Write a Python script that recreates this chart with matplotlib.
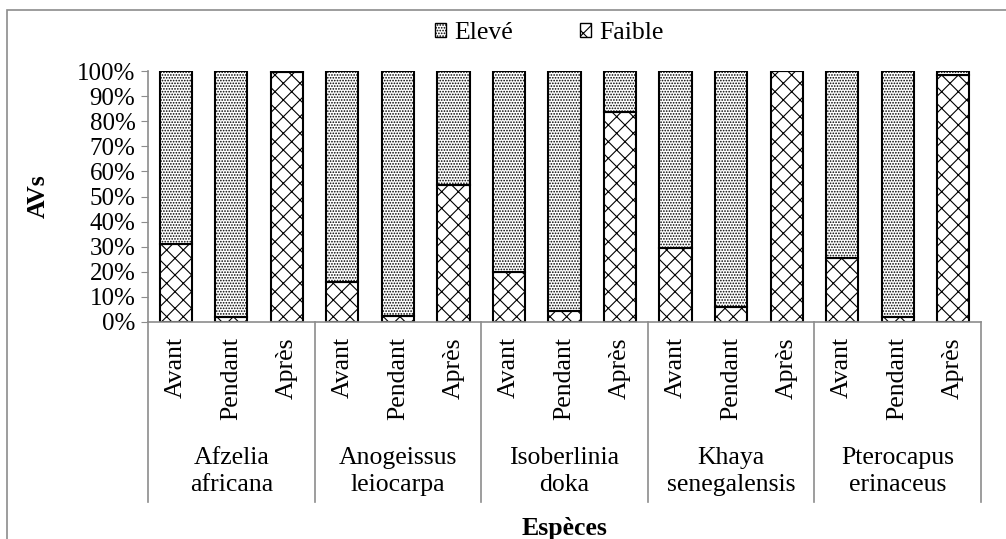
import numpy as np
import matplotlib
matplotlib.use('Agg')
import matplotlib.pyplot as plt
from matplotlib.patches import Patch, Rectangle
from matplotlib.lines import Line2D
import matplotlib.transforms as mtransforms

plt.rcParams['font.family'] = ['Liberation Serif', 'DejaVu Serif']
plt.rcParams['hatch.linewidth'] = 0.8

# data (share of "Faible", the rest is "Elevé")
especes = ['Afzelia\nafricana', 'Anogeissus\nleiocarpa', 'Isoberlinia\ndoka',
           'Khaya\nsenegalensis', 'Pterocapus\nerinaceus']
periodes = ['Avant', 'Pendant', 'Après']
faible = [31, 2, 99.5,
          16, 2.5, 54.5,
          20, 4.5, 83.5,
          29.5, 6, 100,
          25.5, 2, 98.5]
eleve = [100 - v for v in faible]

grey = '#8c8c8c'
fig = plt.figure(figsize=(10.06, 5.39), dpi=100)
ax = fig.add_axes([148/1006, 1 - 322/539, (981-148)/1006, (322-71)/539])

x = np.arange(len(faible))
ax.bar(x, faible, width=0.58, color='white', edgecolor='black', linewidth=1.5, hatch='xx')
ax.bar(x, eleve, bottom=faible, width=0.58, color='white', edgecolor='black',
       linewidth=1.5, hatch='......')

ax.set_xlim(-0.5, len(faible) - 0.5)
ax.set_ylim(0, 100)
ax.set_yticks(np.arange(0, 101, 10))
ax.set_yticklabels([f'{v}%' for v in range(0, 101, 10)], fontsize=18)
ax.tick_params(axis='y', direction='out', length=5, color=grey, pad=4)
for s in ['top', 'right']:
    ax.spines[s].set_visible(False)
for s in ['left', 'bottom']:
    ax.spines[s].set_color(grey)
    ax.spines[s].set_linewidth(1.2)

ax.set_xticks([])
trans = mtransforms.blended_transform_factory(ax.transData, ax.transAxes)
for i in x:
    ax.text(i, -0.06, periodes[i % 3], transform=trans, rotation=90,
            ha='center', va='top', fontsize=18.5)
for g in range(len(especes) + 1):
    ax.add_line(Line2D([g*3 - 0.5, g*3 - 0.5], [0, -0.717], transform=trans,
                       color=grey, linewidth=1.2, clip_on=False))
for g, name in enumerate(especes):
    ax.text(g*3 + 1, -0.595, name, transform=trans, ha='center', va='center',
            fontsize=18.5, linespacing=1.3)

fig.text(38/1006, 1 - 196/539, 'AVs', rotation=90, ha='center', va='center',
         fontsize=18.5, fontweight='bold')
fig.text(565/1006, 1 - 529/539, 'Espèces', ha='center', va='center',
         fontsize=18.5, fontweight='bold')

handles = [Patch(facecolor='white', edgecolor='black', hatch='......', label='Elevé'),
           Patch(facecolor='white', edgecolor='black', hatch='xx', label='Faible')]
fig.legend(handles=handles, loc='center', bbox_to_anchor=(549/1006, 1 - 33/539),
           ncol=2, frameon=False, fontsize=18.5, handlelength=0.45, handleheight=0.45,
           handletextpad=0.3, columnspacing=2.6)

fig.add_artist(Rectangle((7/1006, -0.1), 1.2, 1.1 - 10/539, transform=fig.transFigure,
                         facecolor='none', edgecolor=grey, linewidth=1.2))

fig.savefig('out.png', dpi=100)
